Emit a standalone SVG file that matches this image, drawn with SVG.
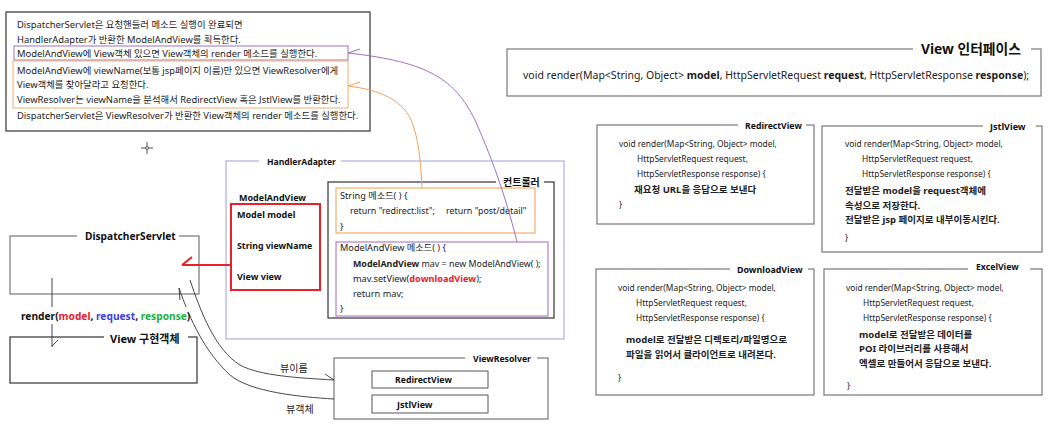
<svg xmlns="http://www.w3.org/2000/svg" width="1048" height="430" viewBox="0 0 1048 430">
<style>
text{font-family:"Noto Sans","Noto Sans CJK KR",sans-serif;font-size:10px;fill:#222}
.b{font-weight:bold}
.t{font-weight:bold;font-size:8.7px;fill:#111}
.n{font-size:9.4px}
.sm{font-size:8.4px}
.kb{font-size:9.5px;font-weight:bold}
.c{font-size:9.2px}
.box{fill:#fff;stroke:#777;stroke-width:1.2}
.dk{fill:#fff;stroke:#333;stroke-width:1.2}
.gap{fill:#fff;stroke:none}
.ln{fill:none;stroke:#333;stroke-width:0.9}
</style>
<rect width="1048" height="430" fill="#fff"/>

<g id="note">
<rect class="dk" x="6" y="12" width="364" height="119"/>
<rect x="14" y="46" width="334" height="14" fill="none" stroke="#a070c0" stroke-width="1"/>
<rect x="13" y="61" width="335" height="47" fill="none" stroke="#f0b070" stroke-width="1"/>
<text class="n" x="17" y="28">DispatcherServlet은 요청핸들러 메소드 실행이 완료되면</text>
<text class="n" x="17" y="43">HandlerAdapter가 반환한 ModelAndView를 획득한다.</text>
<text class="n" x="17" y="57">ModelAndView에 View객체 있으면 View객체의 render 메소드를 실행한다.</text>
<text class="n" x="17" y="74">ModelAndView에 viewName(보통 jsp페이지 이름)만 있으면 ViewResolver에게</text>
<text class="n" x="17" y="88">View객체를 찾아달라고 요청한다.</text>
<text class="n" x="17" y="103">ViewResolver는 viewName을 분석해서 RedirectView 혹은 JstlView를 반환한다.</text>
<text class="n" x="17" y="119">DispatcherServlet은 ViewResolver가 반환한 View객체의 render 메소드를 실행한다.</text>
</g>

<g id="cursor" stroke="#555" stroke-width="1">
<line x1="141" y1="148" x2="153" y2="148"/>
<line x1="147" y1="142" x2="147" y2="154"/>
<circle cx="147" cy="148" r="1.5" fill="#fff"/>
</g>

<g id="view-interface">
<rect class="box" x="507" y="49" width="534" height="47"/>
<rect class="gap" x="913" y="42" width="118" height="14"/>
<text class="t" x="921" y="54" style="font-size:13.8px">View 인터페이스</text>
<text x="523" y="79" style="font-size:10.5px">void render(Map&lt;String, Object&gt; <tspan class="b">model</tspan>, HttpServletRequest <tspan class="b">request</tspan>, HttpServletResponse <tspan class="b">response</tspan>);</text>
</g>

<g id="redirect-view">
<rect class="box" x="597" y="125" width="217" height="99"/>
<rect class="gap" x="738" y="118" width="68" height="14"/>
<text class="t" x="745" y="128.5">RedirectView</text>
<text class="sm" x="619" y="147">void render(Map&lt;String, Object&gt; model,</text>
<text class="sm" x="637" y="162">HttpServletRequest request,</text>
<text class="sm" x="637" y="177">HttpServletResponse response) {</text>
<text class="kb" x="634" y="193">재요청 URL을 응답으로 보낸다</text>
<text class="sm" x="619" y="208">}</text>
</g>

<g id="jstl-view">
<rect class="box" x="822" y="126" width="220" height="126"/>
<rect class="gap" x="983" y="119" width="53" height="14"/>
<text class="t" x="990" y="129.5" style="font-size:9px">JstlView</text>
<text class="sm" x="845" y="147">void render(Map&lt;String, Object&gt; model,</text>
<text class="sm" x="862" y="162">HttpServletRequest request,</text>
<text class="sm" x="862" y="177">HttpServletResponse response) {</text>
<text class="kb" x="845" y="194">전달받은 model을 request객체에</text>
<text class="kb" x="845" y="209">속성으로 저장한다.</text>
<text class="kb" x="845" y="223">전달받은 jsp 페이지로 내부이동시킨다.</text>
<text class="sm" x="845" y="241">}</text>
</g>

<g id="download-view">
<rect class="box" x="596" y="269" width="218" height="126"/>
<rect class="gap" x="730" y="262" width="78" height="14"/>
<text class="t" x="737" y="272.5" style="font-size:8.9px">DownloadView</text>
<text class="sm" x="618" y="291">void render(Map&lt;String, Object&gt; model,</text>
<text class="sm" x="636" y="306">HttpServletRequest request,</text>
<text class="sm" x="636" y="321">HttpServletResponse response) {</text>
<text class="kb" x="626" y="343">model로 전달받은 디렉토리/파일명으로</text>
<text class="kb" x="626" y="358">파일을 읽어서 클라이언트로 내려본다.</text>
<text class="sm" x="618" y="381">}</text>
</g>

<g id="excel-view">
<rect class="box" x="824" y="269" width="218" height="126"/>
<rect class="gap" x="968" y="259" width="62" height="14"/>
<text class="t" x="976" y="269.5">ExcelView</text>
<text class="sm" x="846" y="291">void render(Map&lt;String, Object&gt; model,</text>
<text class="sm" x="863" y="306">HttpServletRequest request,</text>
<text class="sm" x="863" y="321">HttpServletResponse response) {</text>
<text class="kb" x="859" y="338">model로 전달받은 데이터를</text>
<text class="kb" x="859" y="352">POI 라이브러리를 사용해서</text>
<text class="kb" x="859" y="367">엑셀로 만들어서 응답으로 보낸다.</text>
<text class="sm" x="847" y="389">}</text>
</g>

<g id="handler-adapter">
<rect x="226" y="161" width="338" height="178" fill="none" stroke="#b0b0e0" stroke-width="1.2"/>
<rect class="gap" x="259" y="154" width="82" height="14"/>
<text class="t" x="267" y="164.5" style="font-size:8.6px">HandlerAdapter</text>
</g>

<g id="model-and-view">
<text class="t" x="239" y="200.5" style="font-size:9px">ModelAndView</text>
<rect x="231" y="204" width="89" height="86" fill="#fff" stroke="#e8202a" stroke-width="2"/>
<text class="t" x="237" y="217.5" style="font-size:9px">Model model</text>
<text class="t" x="237" y="248.5" style="font-size:8.8px">String viewName</text>
<text class="t" x="237" y="279.5" style="font-size:9px">View view</text>
</g>

<g id="controller">
<rect x="328" y="182" width="226" height="136" fill="#fff" stroke="#333" stroke-width="1.2"/>
<rect class="gap" x="496" y="175" width="48" height="14"/>
<text class="t" x="503" y="186" style="font-size:10px">컨트롤러</text>
</g>

<g id="string-method">
<rect x="336" y="188" width="199" height="45" fill="#fff" stroke="#f0b070" stroke-width="1.2"/>
<text class="c" x="340" y="199">String 메소드( ) {</text>
<text class="c" x="350" y="214" style="font-size:8.9px">return "redirect:list";</text>
<text class="c" x="446" y="214" style="font-size:8.9px">return "post/detail"</text>
<text class="c" x="340" y="230">}</text>
</g>

<g id="mav-method">
<rect x="336" y="242" width="212" height="74" fill="#fff" stroke="#b080c8" stroke-width="1.2"/>
<text class="c" x="340" y="251">ModelAndView 메소드( ) {</text>
<text class="c" x="353" y="267" style="font-size:8.9px"><tspan class="b">ModelAndView</tspan> mav = new ModelAndView( );</text>
<text class="c" x="353" y="282">mav.setView(<tspan class="b" fill="#e8202a">downloadView</tspan>);</text>
<text class="c" x="353" y="297">return mav;</text>
<text class="c" x="340" y="312">}</text>
</g>

<g id="dispatcher-servlet">
<rect class="box" x="10" y="236" width="189" height="58"/>
<rect class="gap" x="77" y="229" width="102" height="14"/>
<text class="t" x="85" y="240" style="font-size:10.2px">DispatcherServlet</text>
</g>

<g id="view-impl">
<rect class="dk" x="10" y="337" width="187" height="46"/>
<rect class="gap" x="104" y="330" width="84" height="14"/>
<text class="t" x="110" y="343" style="font-size:11px">View 구현객체</text>
</g>

<g id="view-resolver">
<rect class="box" x="334" y="358" width="214" height="61"/>
<rect class="gap" x="465" y="351" width="72" height="14"/>
<text class="t" x="473" y="361.5">ViewResolver</text>
<rect x="372" y="371" width="116" height="17" fill="#fff" stroke="#555" stroke-width="1"/>
<text class="t" x="395" y="383">RedirectView</text>
<rect x="372" y="395" width="116" height="18" fill="#fff" stroke="#555" stroke-width="1"/>
<text class="t" x="397" y="408" style="font-size:9px">JstlView</text>
</g>

<g id="connectors">
<path d="M348,53 C430,62 455,80 475,120 C495,165 508,205 517,242" fill="none" stroke="#a070c0" stroke-width="1"/>
<line x1="348" y1="53" x2="360" y2="49" stroke="#a070c0" stroke-width="1"/>
<path d="M348,86 C380,90 405,100 413,125 C420,145 421,170 422,188" fill="none" stroke="#f0a060" stroke-width="1"/>
<line x1="348" y1="86" x2="360" y2="82" stroke="#f0a060" stroke-width="1"/>
<line x1="231" y1="265" x2="182" y2="265" stroke="#e8202a" stroke-width="2"/>
<line x1="182" y1="265" x2="192" y2="257" stroke="#e8202a" stroke-width="2"/>
<line class="ln" x1="52" y1="278" x2="52" y2="347"/>
<line class="ln" x1="52" y1="346" x2="58" y2="340"/>
<path class="ln" d="M190,280 C200,310 215,350 240,365 C260,376 300,378 334,380"/>
<line class="ln" x1="334" y1="380" x2="325" y2="374"/>
<path class="ln" d="M334,399 C300,397 250,392 230,375 C205,352 190,320 179,288"/>
<line class="ln" x1="179" y1="288" x2="180" y2="300"/>
<text x="280" y="372">뷰이름</text>
<text x="286" y="413">뷰객체</text>
</g>

<g id="render-label">
<rect class="gap" x="19" y="307" width="170" height="17"/>
<text class="t" x="21" y="320" style="font-size:10.2px">render(<tspan fill="#e8202a">model</tspan>, <tspan fill="#4040e0">request</tspan>, <tspan fill="#20b040">response</tspan>)</text>
</g>
</svg>
